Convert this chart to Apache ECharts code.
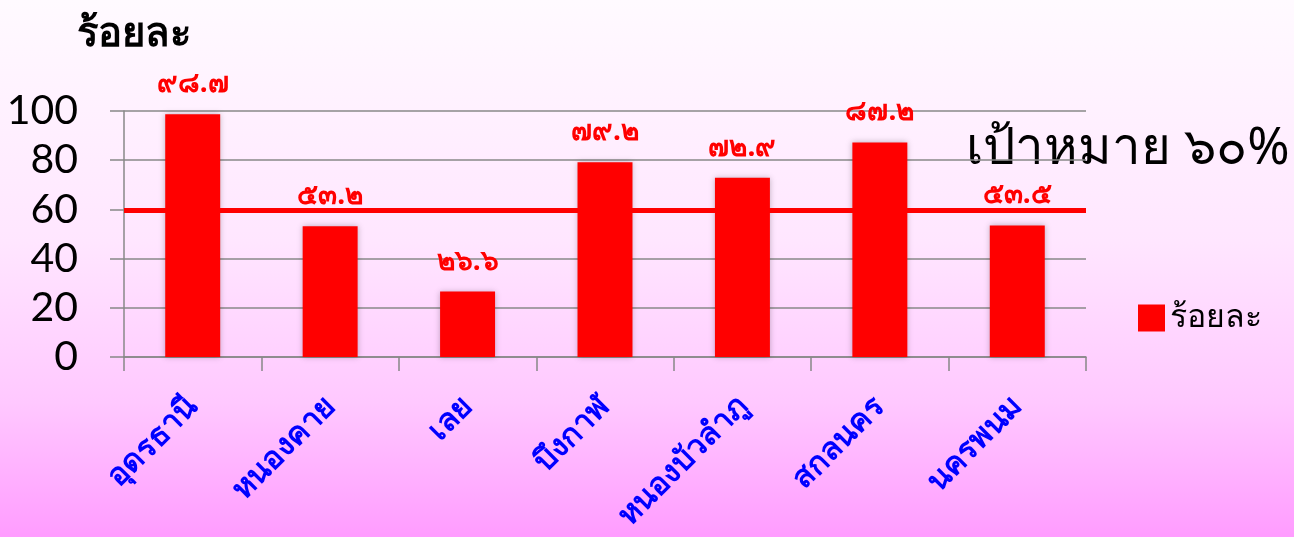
<!DOCTYPE html>
<html>
<head>
<meta charset="utf-8">
<script src="https://cdn.jsdelivr.net/npm/echarts@6/dist/echarts.min.js"></script>
<style>
  html, body { margin: 0; padding: 0; }
  #chart {
    width: 1294px;
    height: 537px;
    background: linear-gradient(to bottom, #fffaff 0%, #ffe6ff 45%, #ffc8ff 75%, #ff9cff 100%);
  }
</style>
</head>
<body>
<div id="chart"></div>
<script>
const provinces = ['อุดรธานี', 'หนองคาย', 'เลย', 'บึงกาฬ', 'หนองบัวลำภู', 'สกลนคร', 'นครพนม']
const percents = [98.7, 53.2, 26.6, 79.2, 72.9, 87.2, 53.5]
const targetValue = 59.5
const yTicks = { min: 0, max: 100, interval: 20 }

const thaiDigits = '๐๑๒๓๔๕๖๗๘๙'
const toThai = (v) => String(v).replace(/[0-9]/g, (d) => thaiDigits[+d])

const myChart = echarts.init(document.getElementById('chart'))
const options = {
  backgroundColor: 'transparent',
  textStyle: { fontFamily: 'Noto Sans, DejaVu Sans, sans-serif' },
  title: {
    text: 'ร้อยละ',
    left: 72,
    top: 10,
    textStyle: { color: '#000', fontSize: 40, fontWeight: 'bold' }
  },
  legend: {
    data: ['ร้อยละ'],
    left: 1133,
    top: 297,
    orient: 'vertical',
    itemWidth: 27,
    itemHeight: 27,
    itemGap: 10,
    icon: 'rect',
    textStyle: { color: '#000', fontSize: 32 }
  },
  graphic: [
    {
      type: 'text',
      left: 966,
      top: 124,
      style: {
        text: 'เป้าหมาย ๖๐%',
        fill: '#000',
        fontSize: 51,
        fontFamily: 'Noto Sans, DejaVu Sans, sans-serif'
      }
    }
  ],
  grid: {
    left: 124,
    right: 208,
    top: 111,
    bottom: 180
  },
  xAxis: {
    type: 'category',
    data: provinces,
    axisLine: { lineStyle: { color: '#888', width: 1.5 } },
    axisTick: { show: true, length: 14, lineStyle: { color: '#888', width: 1.5 } },
    axisLabel: {
      rotate: 45,
      color: '#0000ff',
      fontSize: 31,
      fontWeight: 'bold',
      margin: 45,
      interval: 0
    }
  },
  yAxis: {
    type: 'value',
    min: yTicks.min,
    max: yTicks.max,
    interval: yTicks.interval,
    axisLine: { show: true, lineStyle: { color: '#888', width: 1.5 } },
    axisTick: { show: true, length: 14, lineStyle: { color: '#888', width: 1.5 } },
    splitLine: { lineStyle: { color: '#888', width: 1.5 } },
    axisLabel: {
      color: '#000',
      fontSize: 41,
      margin: 46,
      fontFamily: 'Lato, Noto Sans, sans-serif'
    }
  },
  series: [
    {
      name: 'ร้อยละ',
      type: 'bar',
      data: percents,
      barWidth: '40%',
      itemStyle: {
        color: '#ff0000',
        shadowColor: 'rgba(0,0,0,0.25)',
        shadowBlur: 6
      },
      label: {
        show: true,
        position: 'top',
        distance: 16,
        color: '#ff0000',
        fontSize: 28,
        fontWeight: 'bold',
        formatter: (params) => toThai(params.value)
      },
      markLine: {
        silent: true,
        symbol: 'none',
        label: { show: false },
        lineStyle: { color: '#ff0000', width: 5, type: 'solid' },
        data: [{ yAxis: targetValue }]
      }
    }
  ]
}
myChart.setOption(options)
</script>
</body>
</html>
